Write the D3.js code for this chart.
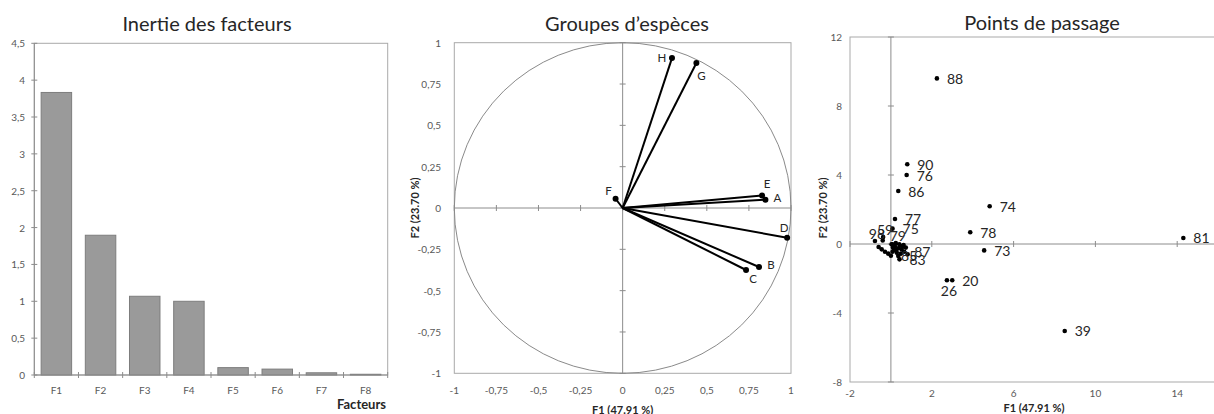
<!DOCTYPE html>
<html><head><meta charset="utf-8">
<script src="https://cdn.jsdelivr.net/npm/d3@7"></script>
<style>
body{margin:0;background:#fff}
svg{display:block}
text{font-family:Lato,"Open Sans",sans-serif}
</style>
</head><body>
<svg id="c" width="1214" height="414"></svg>
<script>
// ---------- Panel 1 : Inertie des facteurs ----------
const factorLabels = ["F1","F2","F3","F4","F5","F6","F7","F8"];
const eigenvalues  = [3.833,1.896,1.068,1.0,0.1,0.08,0.03,0.01];
const inertiaTicks = [0,0.5,1,1.5,2,2.5,3,3.5,4,4.5];

// ---------- Panel 2 : Groupes d'espèces ----------
const speciesGroups = ["A","B","C","D","E","F","G","H"];
const speciesF1 = [0.848,0.81,0.733,0.977,0.828,-0.042,0.438,0.293];
const speciesF2 = [0.05,-0.357,-0.375,-0.18,0.076,0.056,0.877,0.907];
const corTicks  = [-1,-0.75,-0.5,-0.25,0,0.25,0.5,0.75,1];

// ---------- Panel 3 : Points de passage ----------
const siteNames = ["88","90","76","86","74","77","75","78","81","73","20","26","39",
  "59","98","79","83","87","85",
  "","","","","","","","","","","","","","","","","","","","","","",""];
const siteF1 = [2.25,0.8,0.77,0.36,4.83,0.2,0.08,3.88,14.3,4.56,3.0,2.74,8.5,
  -0.38,-0.78,0.24,0.42,0.65,0.0,
  -0.4,-0.6,-0.45,-0.29,-0.13,0.03,0.08,0.41,0.62,0.73,0.16,0.36,0.52,0.29,0.49,0.82,0.08,0.36,0.2,0.1,0.6,0.45,0.25];
const siteF2 = [9.6,4.62,4.0,3.07,2.19,1.45,0.89,0.68,0.35,-0.37,-2.1,-2.1,-5.04,
  0.4,0.17,0.05,-0.89,-0.45,-0.68,
  0.21,-0.17,-0.31,-0.45,-0.56,-0.02,-0.02,-0.02,-0.06,-0.21,-0.31,-0.25,-0.31,-0.5,-0.56,-0.6,-0.45,-0.7,-0.15,-0.2,-0.15,-0.1,-0.38];
const siteXTicks = [-2,2,6,10,14];
const siteYTicks = [-8,-4,0,4,8,12];

const svg = d3.select("#c");
const fmt = v => String(v).replace(".", ",");
const AXIS = "#8c8c8c", FRAME = "#a9a9a9", TICKTXT = "#595959", TXT = "#262626";

function title(x, y, t) {
  svg.append("text").attr("x", x).attr("y", y).attr("text-anchor", "middle")
    .attr("dominant-baseline", "central").attr("font-size", 20).attr("fill", TXT).text(t);
}

// ======== Panel 1 ========
(function () {
  const x = d3.scaleBand().domain(factorLabels).range([34.3, 387.7]).paddingInner(0.31).paddingOuter(0.155);
  const y = d3.scaleLinear().domain([0, 4.5]).range([375, 43.3]);
  const g = svg.append("g");
  const [x0, x1] = x.range();
  g.append("rect").attr("x", x0).attr("y", y(4.5)).attr("width", x1 - x0).attr("height", y(0) - y(4.5))
    .attr("fill", "none").attr("stroke", FRAME);
  g.selectAll("rect.bar").data(eigenvalues).join("rect").attr("class", "bar")
    .attr("x", (d, i) => x(factorLabels[i])).attr("width", x.bandwidth())
    .attr("y", d => y(d)).attr("height", d => y(0) - y(d))
    .attr("fill", "#9a9a9a").attr("stroke", "#7d7d7d").attr("stroke-width", 1);
  // axes
  g.append("line").attr("x1", x0).attr("x2", x0).attr("y1", y(4.5)).attr("y2", y(0)).attr("stroke", AXIS);
  g.append("line").attr("x1", x0).attr("x2", x1).attr("y1", y(0)).attr("y2", y(0)).attr("stroke", AXIS);
  g.selectAll("line.yt").data(inertiaTicks).join("line").attr("class", "yt")
    .attr("x1", x0 - 3).attr("x2", x0 + 3).attr("y1", d => y(d)).attr("y2", d => y(d)).attr("stroke", AXIS);
  g.selectAll("text.yl").data(inertiaTicks).join("text").attr("class", "yl")
    .attr("x", 25).attr("y", d => y(d)).attr("text-anchor", "end").attr("dominant-baseline", "central")
    .attr("font-size", 10).attr("fill", TICKTXT).text(fmt);
  const edges = factorLabels.map(c => x(c) - (x.step() - x.bandwidth()) / 2).concat([x1]);
  g.selectAll("line.xt").data(edges).join("line").attr("class", "xt")
    .attr("x1", d => d).attr("x2", d => d).attr("y1", y(0) - 3).attr("y2", y(0) + 3).attr("stroke", AXIS);
  g.selectAll("text.xl").data(factorLabels).join("text").attr("class", "xl")
    .attr("x", d => x(d) + x.bandwidth() / 2).attr("y", 390).attr("text-anchor", "middle")
    .attr("dominant-baseline", "central").attr("font-size", 10).attr("fill", TICKTXT).text(d => d);
  g.append("text").attr("x", 386).attr("y", 404).attr("text-anchor", "end").attr("dominant-baseline", "central")
    .attr("font-size", 13).attr("font-weight", "bold").attr("fill", TXT).text("Facteurs");
  title(207, 23, "Inertie des facteurs");
})();

// ======== Panel 2 ========
(function () {
  const x = d3.scaleLinear().domain([-1, 1]).range([454.3, 791]);
  const y = d3.scaleLinear().domain([-1, 1]).range([373.3, 42.7]);
  const g = svg.append("g");
  g.append("rect").attr("x", x(-1)).attr("y", y(1)).attr("width", x(1) - x(-1)).attr("height", y(-1) - y(1))
    .attr("fill", "none").attr("stroke", FRAME);
  g.append("ellipse").attr("cx", x(0)).attr("cy", y(0)).attr("rx", x(1) - x(0)).attr("ry", y(0) - y(1))
    .attr("fill", "none").attr("stroke", "#8a8a8a").attr("stroke-width", 1);
  g.append("line").attr("x1", x(-1)).attr("x2", x(1)).attr("y1", y(0)).attr("y2", y(0)).attr("stroke", AXIS);
  g.append("line").attr("x1", x(0)).attr("x2", x(0)).attr("y1", y(1)).attr("y2", y(-1)).attr("stroke", AXIS);
  g.selectAll("line.xt").data(corTicks).join("line").attr("class", "xt")
    .attr("x1", d => x(d)).attr("x2", d => x(d)).attr("y1", y(0) - 3).attr("y2", y(0) + 3).attr("stroke", AXIS);
  g.selectAll("line.yt").data(corTicks).join("line").attr("class", "yt")
    .attr("x1", x(0) - 3).attr("x2", x(0) + 3).attr("y1", d => y(d)).attr("y2", d => y(d)).attr("stroke", AXIS);
  g.selectAll("text.xl").data(corTicks).join("text").attr("class", "xl")
    .attr("x", d => x(d)).attr("y", 390).attr("text-anchor", "middle").attr("dominant-baseline", "central")
    .attr("font-size", 10).attr("fill", TICKTXT).text(fmt);
  g.selectAll("text.yl").data(corTicks).join("text").attr("class", "yl")
    .attr("x", 441).attr("y", d => y(d)).attr("text-anchor", "end").attr("dominant-baseline", "central")
    .attr("font-size", 10).attr("fill", TICKTXT).text(fmt);
  // vectors
  const place = {A:[12,-2,"middle"], B:[12,-3,"middle"], C:[7,9,"middle"], D:[-3,-10,"middle"],
                 E:[5,-12,"middle"], F:[-7,-8,"middle"], G:[5,12,"middle"], H:[-10,-1,"middle"]};
  speciesGroups.forEach((n, i) => {
    g.append("line").attr("x1", x(0)).attr("y1", y(0)).attr("x2", x(speciesF1[i])).attr("y2", y(speciesF2[i]))
      .attr("stroke", "#000").attr("stroke-width", 2);
  });
  speciesGroups.forEach((n, i) => {
    g.append("circle").attr("cx", x(speciesF1[i])).attr("cy", y(speciesF2[i])).attr("r", 3).attr("fill", "#000");
    const p = place[n];
    g.append("text").attr("x", x(speciesF1[i]) + p[0]).attr("y", y(speciesF2[i]) + p[1])
      .attr("text-anchor", p[2]).attr("dominant-baseline", "central").attr("font-size", 11.5).attr("fill", TXT).text(n);
  });
  g.append("text").attr("x", x(0)).attr("y", 409).attr("text-anchor", "middle").attr("dominant-baseline", "central")
    .attr("font-size", 11).attr("font-weight", "bold").attr("fill", TXT).text("F1 (47.91 %)");
  g.append("text").attr("transform", `translate(414,${y(0)}) rotate(-90)`).attr("text-anchor", "middle")
    .attr("dominant-baseline", "central").attr("font-size", 11).attr("font-weight", "bold").attr("fill", TXT).text("F2 (23.70 %)");
  title(627, 23, "Groupes d\u2019espèces");
})();

// ======== Panel 3 ========
(function () {
  const x = d3.scaleLinear().domain([-2, 18]).range([850, 1259]);
  const y = d3.scaleLinear().domain([-8, 12]).range([382, 37]);
  const g = svg.append("g");
  g.append("rect").attr("x", x(-2)).attr("y", y(12)).attr("width", x(18) - x(-2)).attr("height", y(-8) - y(12))
    .attr("fill", "none").attr("stroke", FRAME);
  g.append("line").attr("x1", x(-2)).attr("x2", x(18)).attr("y1", y(0)).attr("y2", y(0)).attr("stroke", AXIS);
  g.append("line").attr("x1", x(0)).attr("x2", x(0)).attr("y1", y(12)).attr("y2", y(-8)).attr("stroke", AXIS);
  g.selectAll("line.xt").data(siteXTicks).join("line").attr("class", "xt")
    .attr("x1", d => x(d)).attr("x2", d => x(d)).attr("y1", y(0) - 3).attr("y2", y(0) + 3).attr("stroke", AXIS);
  g.selectAll("line.yt").data(siteYTicks).join("line").attr("class", "yt")
    .attr("x1", x(0) - 3).attr("x2", x(0) + 3).attr("y1", d => y(d)).attr("y2", d => y(d)).attr("stroke", AXIS);
  g.selectAll("text.xl").data(siteXTicks).join("text").attr("class", "xl")
    .attr("x", d => x(d)).attr("y", 393).attr("text-anchor", "middle").attr("dominant-baseline", "central")
    .attr("font-size", 10).attr("fill", TICKTXT).text(fmt);
  g.selectAll("text.yl").data(siteYTicks).join("text").attr("class", "yl")
    .attr("x", 842).attr("y", d => y(d)).attr("text-anchor", "end").attr("dominant-baseline", "central")
    .attr("font-size", 10).attr("fill", TICKTXT).text(fmt);
  const sites = siteNames.map((n, i) => ({n, f1: siteF1[i], f2: siteF2[i]}));
  g.selectAll("circle.pt").data(sites).join("circle").attr("class", "pt")
    .attr("cx", d => x(d.f1)).attr("cy", d => y(d.f2)).attr("r", 2.3).attr("fill", "#000");
  const above = new Set(["98", "59", "79"]), below = new Set(["26"]);
  g.selectAll("text.pl").data(sites.filter(d => d.n !== "")).join("text").attr("class", "pl")
    .attr("x", d => above.has(d.n) || below.has(d.n) ? x(d.f1) + 2 : x(d.f1) + 10)
    .attr("y", d => above.has(d.n) ? y(d.f2) - 8 : below.has(d.n) ? y(d.f2) + 10 : y(d.f2))
    .attr("text-anchor", d => above.has(d.n) || below.has(d.n) ? "middle" : "start")
    .attr("dominant-baseline", "central").attr("font-size", 14).attr("fill", TXT).text(d => d.n);
  g.append("text").attr("x", 1034).attr("y", 407).attr("text-anchor", "middle").attr("dominant-baseline", "central")
    .attr("font-size", 11).attr("font-weight", "bold").attr("fill", TXT).text("F1 (47.91 %)");
  g.append("text").attr("transform", `translate(822,208) rotate(-90)`).attr("text-anchor", "middle")
    .attr("dominant-baseline", "central").attr("font-size", 11).attr("font-weight", "bold").attr("fill", TXT).text("F2 (23.70 %)");
  title(1042, 22, "Points de passage");
})();
</script>
</body></html>
